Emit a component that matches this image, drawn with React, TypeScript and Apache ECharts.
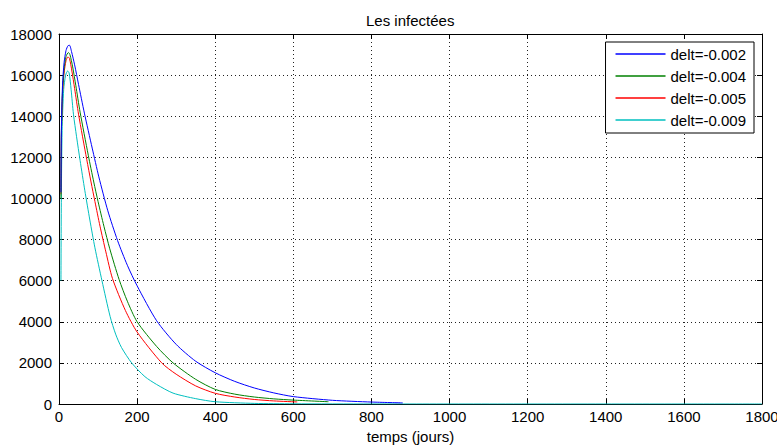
import React, { useEffect, useRef } from 'react';
import * as echarts from 'echarts';

const titleText = 'Les infectées';
const xAxisName = 'temps (jours)';
const seriesNames = ['delt=-0.002', 'delt=-0.004', 'delt=-0.005', 'delt=-0.009'];
const seriesColors = ['#0000ff', '#008000', '#ff0000', '#00bfbf'];

const delt002: [number, number][] = [
  [5, 10300], [6, 13300], [9, 15500], [13, 16600], [18, 17200], [23, 17430], [27, 17450],
  [32, 17150], [40, 16500], [50, 15550], [65, 14150], [85, 12450], [102, 11050], [125, 9400],
  [150, 7950], [175, 6750], [200, 5750], [250, 4050], [300, 2900], [350, 2080], [400, 1520],
  [450, 1100], [500, 780], [550, 540], [600, 360], [700, 180], [800, 95], [880, 55],
];
const delt004: [number, number][] = [
  [5, 10000], [6, 13000], [9, 15200], [13, 16300], [18, 16900], [24, 17100], [28, 17000],
  [35, 16400], [43, 15500], [54, 14200], [75, 12100], [89, 10800], [100, 9850], [115, 8650],
  [130, 7550], [154, 6050], [175, 5000], [200, 4000], [250, 2800], [292, 2000], [350, 1200],
  [400, 710], [450, 480], [500, 340], [550, 250], [600, 190], [690, 110],
];
const delt005: [number, number][] = [
  [5, 10200], [6, 13000], [9, 15100], [13, 16100], [18, 16700], [23, 16890], [27, 16800],
  [33, 16200], [40, 15350], [50, 14100], [71, 11900], [82, 10800], [92, 9850], [105, 8650],
  [120, 7400], [137, 6100], [170, 4550], [200, 3500], [263, 2000], [300, 1450], [350, 880],
  [400, 520], [450, 340], [500, 220], [550, 150], [610, 100],
];
const delt009: [number, number][] = [
  [5, 6000], [6, 10000], [8, 13300], [12, 15300], [17, 16000], [22, 16200], [26, 16100],
  [31, 15300], [37, 14100], [45, 13000], [54, 11850], [66, 10400], [79, 8950], [92, 7600],
  [110, 6000], [131, 4250], [145, 3400], [160, 2750], [186, 2000], [220, 1330], [250, 950],
  [292, 530], [350, 260], [400, 110], [500, 30], [600, 10], [800, 2], [1800, 0],
];
const allData = [delt002, delt004, delt005, delt009];

const xMin = 0, xMax = 1800, xStep = 200;
const yMin = 0, yMax = 18000, yStep = 2000;

const FONT = "'Liberation Sans', Arial, sans-serif";

export default function App() {
  const ref = useRef<HTMLDivElement>(null);
  useEffect(() => {
    document.body.style.margin = '0';
    const chart = echarts.init(ref.current!, null, { renderer: 'svg' });
    const axisLine = { show: true, onZero: false, lineStyle: { color: '#000', width: 1 } };
    const axisTick = { show: true, inside: true, length: 5, lineStyle: { color: '#000' } };
    const splitLine = { show: true, lineStyle: { type: [1, 3], color: '#222', width: 1 } };
    const plain = (v: number) => String(v);
    chart.setOption({
      animation: false,
      backgroundColor: '#fff',
      title: {
        text: titleText,
        left: 361,
        top: 8,
        textStyle: { fontSize: 15, fontWeight: 'normal', color: '#000', fontFamily: FONT },
      },
      grid: { left: 59, right: 15, top: 34, bottom: 42, containLabel: false, outerBoundsMode: 'none' },
      legend: {
        data: seriesNames,
        orient: 'vertical',
        right: 23,
        top: 42,
        icon: 'rect',
        itemWidth: 50,
        itemHeight: 1.5,
        itemGap: 6,
        padding: [4, 8, 5, 10],
        backgroundColor: '#fff',
        borderColor: '#000',
        borderWidth: 1,
        borderRadius: 0,
        textStyle: { fontSize: 15, color: '#000', fontFamily: FONT, lineHeight: 16 },
      },
      xAxis: [
        {
          type: 'value', min: xMin, max: xMax, interval: xStep, position: 'bottom',
          axisLine, axisTick, splitLine,
          axisLabel: { color: '#000', fontSize: 15, fontFamily: FONT, margin: 5, formatter: plain },
          name: xAxisName, nameLocation: 'middle', nameGap: 25,
          nameTextStyle: { color: '#000', fontSize: 15, fontFamily: FONT },
        },
        {
          type: 'value', min: xMin, max: xMax, interval: xStep, position: 'top',
          axisLine, axisTick, splitLine: { show: false }, axisLabel: { show: false },
        },
      ],
      yAxis: [
        {
          type: 'value', min: yMin, max: yMax, interval: yStep, position: 'left',
          axisLine, axisTick, splitLine,
          axisLabel: { color: '#000', fontSize: 15, fontFamily: FONT, margin: 7, formatter: plain },
        },
        {
          type: 'value', min: yMin, max: yMax, interval: yStep, position: 'right',
          axisLine, axisTick, splitLine: { show: false }, axisLabel: { show: false },
        },
      ],
      series: allData.map((d, i) => ({
        name: seriesNames[i],
        type: 'line',
        data: d,
        xAxisIndex: 0,
        yAxisIndex: 0,
        showSymbol: false,
        symbol: 'none',
        smooth: 0.25,
        lineStyle: { color: seriesColors[i], width: 1 },
        itemStyle: { color: seriesColors[i] },
        z: 5 - i,
      })),
    });
    return () => chart.dispose();
  }, []);
  return <div ref={ref} style={{ width: 777, height: 446 }} />;
}
